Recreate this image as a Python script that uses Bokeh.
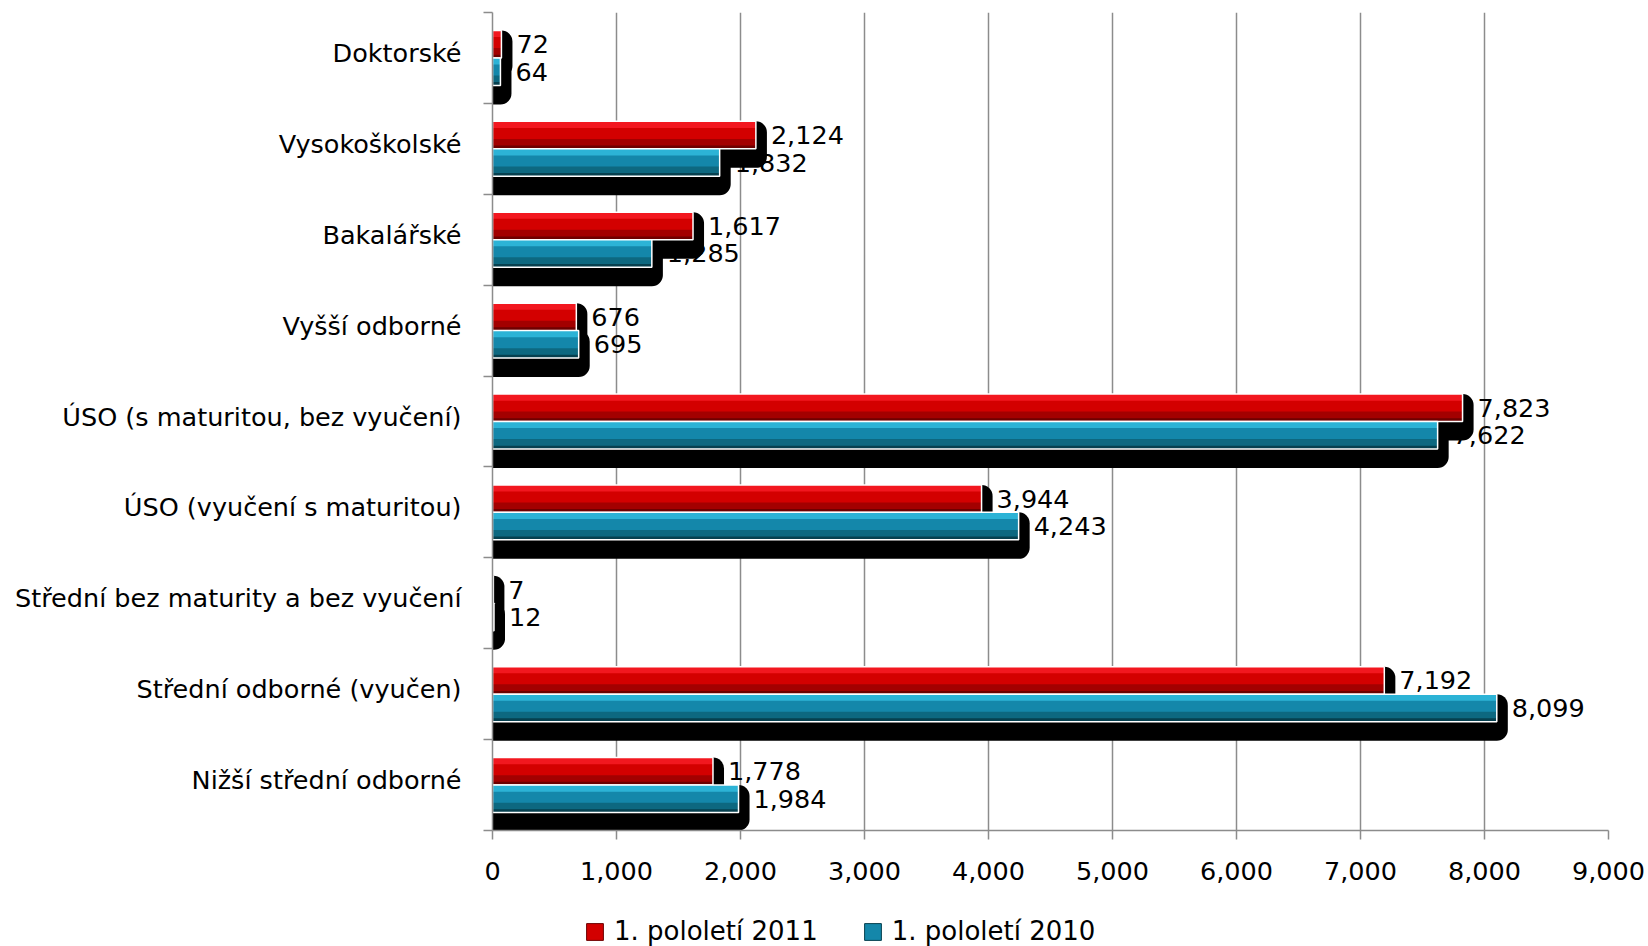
from bokeh.plotting import figure
from bokeh.layouts import column
from bokeh.models import Range1d, FixedTicker, NumeralTickFormatter, ColumnDataSource, Legend, LegendItem
from bokeh.core.properties import value
from bokeh.embed import file_html
from bokeh.resources import INLINE

categories = ["Doktorské", "Vysokoškolské", "Bakalářské", "Vyšší odborné",
              "ÚSO (s maturitou, bez vyučení)", "ÚSO (vyučení s maturitou)",
              "Střední bez maturity a bez vyučení", "Střední odborné (vyučen)",
              "Nižší střední odborné"]
values_2011 = [72, 2124, 1617, 676, 7823, 3944, 7, 7192, 1778]
values_2010 = [64, 1832, 1285, 695, 7622, 4243, 12, 8099, 1984]
series_names = ["1. pololetí 2011", "1. pololetí 2010"]
x_ticks = [0, 1000, 2000, 3000, 4000, 5000, 6000, 7000, 8000, 9000]

FONT = "DejaVu Sans"
FS = "25.5px"
GRAY = "#8c8c8c"

n = len(categories)
p = figure(width=1648, height=916, x_range=Range1d(0, 9000), y_range=Range1d(n, 0),
           output_backend="svg", toolbar_location=None,
           min_border_left=492, min_border_right=40, min_border_top=12, min_border_bottom=86)
p.outline_line_color = None
p.background_fill_color = "white"

# axes
p.xaxis.ticker = FixedTicker(ticks=x_ticks)
p.xaxis.formatter = NumeralTickFormatter(format="0,0")
p.xaxis.axis_line_color = GRAY
p.xaxis.axis_line_width = 1.5
p.xaxis.major_tick_line_color = GRAY
p.xaxis.major_tick_line_width = 1.5
p.xaxis.major_tick_out = 9
p.xaxis.major_tick_in = 0
p.xaxis.minor_tick_line_color = None
p.xaxis.major_label_text_font = FONT
p.xaxis.major_label_text_font_size = FS
p.xaxis.major_label_text_color = "black"
p.xaxis.major_label_standoff = 22

centers = [i + 0.5 for i in range(n)]
label_pos = [c - 0.055 for c in centers]
p.yaxis.ticker = FixedTicker(ticks=label_pos, minor_ticks=list(range(n + 1)))
p.yaxis.major_label_overrides = {c: cat for c, cat in zip(label_pos, categories)}
p.yaxis.axis_line_color = GRAY
p.yaxis.axis_line_width = 1.5
p.yaxis.major_tick_line_color = None
p.yaxis.major_tick_out = 0
p.yaxis.major_tick_in = 0
p.yaxis.minor_tick_line_color = GRAY
p.yaxis.minor_tick_line_width = 1.5
p.yaxis.minor_tick_out = 9
p.yaxis.minor_tick_in = 0
p.yaxis.major_label_text_font = FONT
p.yaxis.major_label_text_font_size = FS
p.yaxis.major_label_text_color = "black"
p.yaxis.major_label_standoff = 22

p.xgrid.ticker = FixedTicker(ticks=x_ticks)
p.xgrid.grid_line_color = GRAY
p.xgrid.grid_line_width = 1.5
p.ygrid.grid_line_color = None

# geometry (in category units)
H = 0.3025
OFFS = [-0.151, 0.151]
SH_DOWN = 0.209
SH_RIGHT = 89  # ~11 px in data units

palettes = [
    dict(top="#f2171f", main="#d30000", low="#a30000", edge="#6e0000"),
    dict(top="#2cb3d6", main="#1487aa", low="#0d6880", edge="#06404f"),
]
series_values = [values_2011, values_2010]

sources = []
for vals, off in zip(series_values, OFFS):
    ys = [c + off for c in centers]
    tops = [y - H / 2 for y in ys]
    src = ColumnDataSource(dict(
        y=ys, v=vals,
        lbl=[f"{v:,}" for v in vals],
        sh_y=[y + SH_DOWN / 2 for y in ys],
        sh_r=[v + SH_RIGHT for v in vals],
        top_y=[t + 0.12 * H for t in tops],
        low_y=[t + 0.82 * H for t in tops],
        edge_y=[t + 0.94 * H for t in tops],
    ))
    sources.append(src)

# labels (drawn first so shadows may cover them)
for src in sources:
    p.text(x="v", y="y", text="lbl", source=src, x_offset=15,
           text_font=value(FONT), text_font_size=FS, text_baseline="middle",
           text_align="left", text_color="black")

# shadows
for src in sources:
    p.hbar(y="sh_y", height=H + SH_DOWN, left=0, right="sh_r", source=src,
           fill_color="black", line_color=None, border_radius=(0, 11, 11, 0))

# bars
for src, pal in zip(sources, palettes):
    p.hbar(y="y", height=H, left=0, right="v", source=src,
           fill_color=pal["main"], line_color=None)
    p.hbar(y="top_y", height=0.24 * H, left=0, right="v", source=src,
           fill_color=pal["top"], line_color=None)
    p.hbar(y="low_y", height=0.36 * H, left=0, right="v", source=src,
           fill_color=pal["low"], line_color=None)
    p.hbar(y="edge_y", height=0.12 * H, left=0, right="v", source=src,
           fill_color=pal["edge"], line_color=None)
    p.hbar(y="y", height=H, left=0, right="v", source=src,
           fill_color=None, line_color="white", line_width=1.5)

# legend strip below the chart (its frame is aligned with the chart's frame)
lf = figure(width=1648, height=30, x_range=Range1d(0, 1), y_range=Range1d(0, 1),
            output_backend="svg", toolbar_location=None,
            min_border_left=0, min_border_right=0, min_border_top=0, min_border_bottom=0)
lf.axis.visible = False
lf.grid.grid_line_color = None
lf.outline_line_color = None
legend_renderers = []
for src, pal in zip(sources, palettes):
    r = lf.hbar(y="y", height=H, left=0, right="v", source=src,
                fill_color=pal["main"], line_color=pal["edge"], line_width=1)
    r.visible = False
    legend_renderers.append(r)
legend = Legend(items=[LegendItem(label=name, renderers=[r])
                       for name, r in zip(series_names, legend_renderers)],
                orientation="horizontal", location=(92, 0),
                border_line_color=None, background_fill_alpha=0,
                inactive_fill_alpha=0,
                label_text_font=FONT, label_text_font_size="26px", label_text_color="black",
                glyph_width=21, glyph_height=21, label_standoff=9,
                spacing=44, padding=0, margin=0)
lf.add_layout(legend)

open("out.html", "w").write(file_html(column(p, lf, spacing=0), INLINE))
